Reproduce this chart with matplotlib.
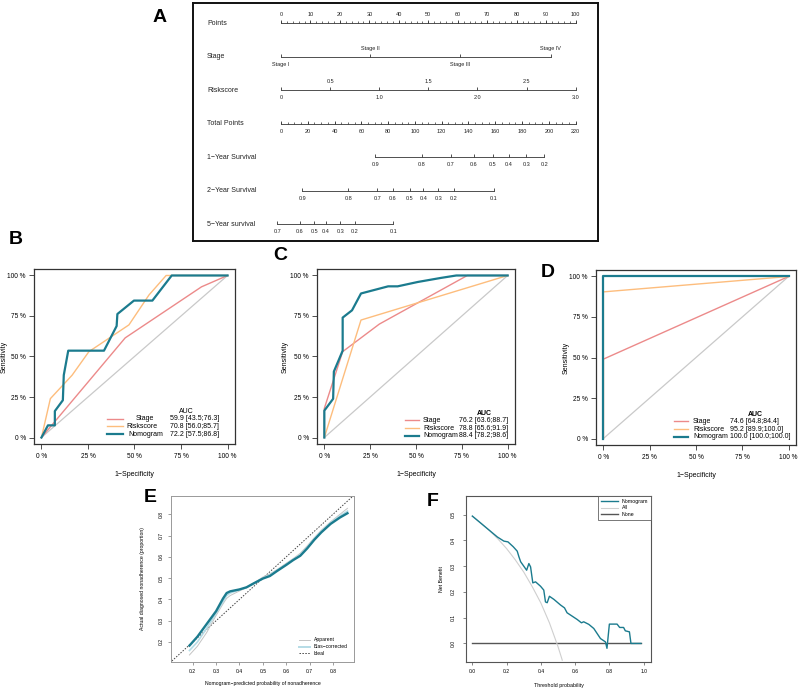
import matplotlib
matplotlib.use('Agg')
import matplotlib.pyplot as plt
from matplotlib.lines import Line2D

plt.rcParams['font.family'] = ['Liberation Sans', 'DejaVu Sans']

W, H = 800, 690

# ---- panel A: nomogram ----
row_names = ['Points', 'Stage', 'Riskscore', 'Total Points',
             '1−Year Survival', '2−Year Survival', '5−Year survival']
points_ticks = list(range(0, 101, 10))
stage_labels = ['Stage I', 'Stage II', 'Stage III', 'Stage IV']
stage_points = [0, 30.3, 60.8, 91.5]
risk_values = [0, 0.5, 1.0, 1.5, 2.0, 2.5, 3.0]
risk_labels = ['0', '0.5', '1.0', '1.5', '2.0', '2.5', '3.0']
total_ticks = list(range(0, 221, 20))
surv1_labels = ['0.9', '0.8', '0.7', '0.6', '0.5', '0.4', '0.3', '0.2']
surv1_total = [70.4, 105.3, 127.0, 143.9, 158.1, 170.2, 183.2, 196.6]
surv2_labels = ['0.9', '0.8', '0.7', '0.6', '0.5', '0.4', '0.3', '0.2', '0.1']
surv2_total = [15.9, 50.2, 71.9, 83.6, 96.3, 106.2, 117.4, 129.1, 159.0]
surv5_labels = ['0.7', '0.6', '0.5', '0.4', '0.3', '0.2', '0.1']
surv5_total = [-2.8, 14.2, 24.9, 33.6, 44.3, 55.2, 83.8]

# ---- panels B-D: ROC ----
roc_names = ['Stage', 'Riskscore', 'Nomogram']
b_stage_fpr = [0, 0.45, 0.86, 1.0]
b_stage_tpr = [0, 0.615, 0.93, 1.0]
b_risk_fpr = [0, 0.048, 0.165, 0.255, 0.47, 0.578, 0.67, 1.0]
b_risk_tpr = [0, 0.24, 0.385, 0.53, 0.695, 0.88, 1.0, 1.0]
b_nomo_fpr = [0, 0.035, 0.072, 0.072, 0.115, 0.12, 0.144, 0.336, 0.404, 0.408, 0.497, 0.596, 0.70, 1.0]
b_nomo_tpr = [0, 0.075, 0.075, 0.163, 0.23, 0.385, 0.536, 0.536, 0.688, 0.762, 0.845, 0.845, 1.0, 1.0]
b_auc = ['59.9 [43.5;76.3]', '70.8 [56.0;85.7]', '72.2 [57.5;86.8]']

c_stage_fpr = [0, 0, 0.1, 0.3, 0.78, 1.0]
c_stage_tpr = [0, 0.18, 0.53, 0.70, 1.0, 1.0]
c_risk_fpr = [0, 0.2, 1.0]
c_risk_tpr = [0, 0.725, 1.0]
c_nomo_fpr = [0, 0, 0.048, 0.052, 0.1, 0.1, 0.151, 0.2, 0.348, 0.40, 0.51, 0.636, 0.72, 1.0]
c_nomo_tpr = [0, 0.166, 0.239, 0.407, 0.536, 0.74, 0.785, 0.889, 0.933, 0.933, 0.96, 0.985, 1.0, 1.0]
c_auc = ['76.2 [63.6;88.7]', '78.8 [65.6;91.9]', '88.4 [78.2;98.6]']

d_stage_fpr = [0, 0, 1.0]
d_stage_tpr = [0, 0.49, 1.0]
d_risk_fpr = [0, 0, 1.0]
d_risk_tpr = [0, 0.905, 1.0]
d_nomo_fpr = [0, 0, 1.0]
d_nomo_tpr = [0, 1.0, 1.0]
d_auc = ['74.6 [64.8;84.4]', '95.2 [89.9;100.0]', '100.0 [100.0;100.0]']

# ---- panel E: calibration ----
e_pred = [0.186, 0.22, 0.26, 0.30, 0.33, 0.345, 0.36, 0.40, 0.43, 0.46, 0.50,
          0.53, 0.56, 0.60, 0.63, 0.66, 0.69, 0.72, 0.75, 0.79, 0.83, 0.862]
e_nomo = [0.183, 0.225, 0.285, 0.345, 0.405, 0.43, 0.438, 0.447, 0.457, 0.475, 0.498,
          0.51, 0.533, 0.562, 0.585, 0.605, 0.64, 0.68, 0.715, 0.755, 0.785, 0.805]
e_apparent = [0.139, 0.18, 0.245, 0.325, 0.38, 0.405, 0.418, 0.44, 0.455, 0.475, 0.505,
              0.52, 0.54, 0.57, 0.592, 0.617, 0.652, 0.69, 0.725, 0.765, 0.8, 0.828]
e_bias = [0.16, 0.2, 0.265, 0.335, 0.39, 0.418, 0.43, 0.445, 0.456, 0.475, 0.5,
          0.515, 0.536, 0.566, 0.588, 0.61, 0.645, 0.685, 0.72, 0.76, 0.792, 0.815]

# ---- panel F: decision curve ----
f_thr = [0, 0.146, 0.184, 0.208, 0.239, 0.262, 0.272, 0.282, 0.317, 0.33, 0.34, 0.353,
         0.369, 0.398, 0.417, 0.427, 0.437, 0.45, 0.476, 0.515, 0.538, 0.553, 0.612,
         0.637, 0.65, 0.68, 0.709, 0.728, 0.748, 0.777, 0.786, 0.8, 0.845, 0.86,
         0.883, 0.893, 0.917, 0.926, 0.984]
f_nomo = [0.494, 0.413, 0.397, 0.394, 0.375, 0.358, 0.336, 0.317, 0.284, 0.31, 0.297, 0.235,
          0.239, 0.222, 0.207, 0.161, 0.158, 0.183, 0.171, 0.149, 0.138, 0.119, 0.093,
          0.08, 0.084, 0.074, 0.058, 0.039, 0.019, 0.006, -0.019, 0.075, 0.075, 0.062,
          0.062, 0.049, 0.045, 0.0, 0.0]
f_all_thr = [0, 0.05, 0.1, 0.15, 0.2, 0.25, 0.3, 0.35, 0.4, 0.45, 0.5, 0.525]
f_all = [0.494, 0.467, 0.438, 0.405, 0.368, 0.325, 0.277, 0.22, 0.157, 0.08, -0.012, -0.065]
f_none_thr = [0, 0.985]
f_none = [0, 0]

TEAL = '#1b7b8e'
SALMON = '#ec8a8a'
ORANGE = '#fdbd7d'
DIAG = '#c9c9c9'
roc_colors = [SALMON, ORANGE, TEAL]
roc_widths = [1.0, 1.0, 1.6]


def add_ax(fig, x0, y0, x1, y1):
    return fig.add_axes([x0 / W, 1 - y1 / H, (x1 - x0) / W, (y1 - y0) / H])


fig = plt.figure(figsize=(8, 6.9), dpi=100)

# ================= A =================
axA = add_ax(fig, 193, 3, 598, 241)
axA.set_xlim(-29.86, 107.6)
axA.set_ylim(6.5, -0.6)
axA.set_xticks([])
axA.set_yticks([])
for s in axA.spines.values():
    s.set_linewidth(1.4)
    s.set_color('#111111')

lc = '#333333'


def scale_row(row, xs, labels, above, minor=None):
    axA.plot([min(xs), max(xs)], [row, row], color=lc, lw=0.6)
    axA.plot(xs, [row] * len(xs), ls='none', marker=2, ms=2.2, mew=0.6, color=lc)
    if minor is not None:
        axA.plot(minor, [row] * len(minor), ls='none', marker=2, ms=1.2, mew=0.5, color=lc)
    for x, lab, up in zip(xs, labels, above):
        axA.annotate(lab, (x, row), xytext=(0, 6.2 if up else -5.4), textcoords='offset points',
                     ha='center', va='center', fontsize=4, color='#222222')


for i, name in enumerate(row_names):
    axA.text(-25.1, i, name, ha='left', va='center', fontsize=5, color='#222222')

scale_row(0, points_ticks, [str(t) for t in points_ticks], [True] * len(points_ticks),
          minor=list(range(0, 101, 2)))
scale_row(1, stage_points, stage_labels, [False, True, False, True])
scale_row(2, [v / 3 * 100 for v in risk_values], risk_labels,
          [False, True, False, True, False, True, False])
scale_row(3, [t * 100 / 220 for t in total_ticks], [str(t) for t in total_ticks],
          [False] * len(total_ticks), minor=[t * 100 / 220 for t in range(0, 221, 5)])
scale_row(4, [t * 100 / 220 for t in surv1_total], surv1_labels, [False] * len(surv1_total))
scale_row(5, [t * 100 / 220 for t in surv2_total], surv2_labels, [False] * len(surv2_total))
scale_row(6, [t * 100 / 220 for t in surv5_total], surv5_labels, [False] * len(surv5_total))
fig.text(160 / W, 1 - 17 / H, 'A', fontsize=14, fontweight='bold', ha='center', va='center')


# ================= B, C, D =================
def roc_panel(rect, curves, aucs, letter, letter_xy, leg, auc_bold):
    ax = add_ax(fig, *rect)
    ax.plot([0, 1], [0, 1], color=DIAG, lw=0.9)
    for (fpr, tpr), col, lw in zip(curves, roc_colors, roc_widths):
        ax.plot(fpr, tpr, color=col, lw=lw)
    ax.set_xlim(-0.04, 1.04)
    ax.set_ylim(-0.04, 1.04)
    ticks = [0, 0.25, 0.5, 0.75, 1.0]
    ax.set_xticks(ticks, ['0 %', '25 %', '50 %', '75 %', '100 %'])
    ax.set_yticks(ticks, ['0 %', '25 %', '50 %', '75 %', '100 %'])
    ax.tick_params(labelsize=4.7, length=3.3, width=0.6, pad=2.5, color='#333333')
    ax.tick_params(axis='x', pad=3.5)
    for s in ax.spines.values():
        s.set_linewidth(0.9)
        s.set_color('#333333')
    ax.set_xlabel('1−Specificity', fontsize=5)
    ax.set_ylabel('Sensitivity', fontsize=5)
    ax.xaxis.set_label_coords(0.5, -0.152)
    ax.yaxis.set_label_coords(leg['ylab'], 0.5)
    hx0, hx1, name_x, name_ha, val_x, auc_x, rows, auc_y = (
        leg['hx0'], leg['hx1'], leg['name_x'], leg['name_ha'], leg['val_x'],
        leg['auc_x'], leg['rows'], leg['auc_y'])
    for k in range(3):
        ax.plot([hx0, hx1], [rows[k], rows[k]], transform=ax.transAxes, color=roc_colors[k],
                lw=roc_widths[k], clip_on=False)
        nx = name_x[k] if isinstance(name_x, list) else name_x
        ax.text(nx, rows[k], roc_names[k], transform=ax.transAxes, ha=name_ha, va='center',
                fontsize=5)
        ax.text(val_x, rows[k], aucs[k], transform=ax.transAxes, ha='left', va='center',
                fontsize=5)
    ax.text(auc_x, auc_y, 'AUC', transform=ax.transAxes, ha='center', va='center', fontsize=5,
            fontweight='bold' if auc_bold else 'normal')
    fig.text(letter_xy[0] / W, 1 - letter_xy[1] / H, letter, fontsize=14, fontweight='bold',
             ha='center', va='center')
    return ax


roc_panel((34, 269, 235, 444),
          [(b_stage_fpr, b_stage_tpr), (b_risk_fpr, b_risk_tpr), (b_nomo_fpr, b_nomo_tpr)],
          b_auc, 'B', (16, 240),
          dict(ylab=-0.13, hx0=0.363, hx1=0.443, name_x=[0.552, 0.536, 0.555], name_ha='center',
               val_x=0.677, auc_x=0.756, rows=[0.145, 0.101, 0.055], auc_y=0.183), False)
roc_panel((317, 269, 515, 444),
          [(c_stage_fpr, c_stage_tpr), (c_risk_fpr, c_risk_tpr), (c_nomo_fpr, c_nomo_tpr)],
          c_auc, 'C', (280, 255),
          dict(ylab=-0.141, hx0=0.444, hx1=0.515, name_x=0.535, name_ha='left',
               val_x=0.717, auc_x=0.846, rows=[0.137, 0.091, 0.046], auc_y=0.177), True)
roc_panel((596, 270, 796, 445),
          [(d_stage_fpr, d_stage_tpr), (d_risk_fpr, d_risk_tpr), (d_nomo_fpr, d_nomo_tpr)],
          d_auc, 'D', (548, 273),
          dict(ylab=-0.13, hx0=0.39, hx1=0.46, name_x=0.485, name_ha='left',
               val_x=0.67, auc_x=0.7975, rows=[0.137, 0.091, 0.046], auc_y=0.177), True)

# ================= E =================
axE = add_ax(fig, 171, 496, 354, 662)
axE.plot([0, 1], [0, 1], color='#444444', lw=0.7, ls=(0, (1.5, 1.5)))
axE.plot(e_pred, e_apparent, color='#c4c4c4', lw=0.7)
axE.plot(e_pred, e_bias, color='#b5dce6', lw=1.2)
axE.plot(e_pred, e_nomo, color=TEAL, lw=1.7)
axE.set_xlim(0.107, 0.89)
axE.set_ylim(0.106, 0.886)
axE.set_xticks([0.2, 0.3, 0.4, 0.5, 0.6, 0.7, 0.8])
axE.set_yticks([0.2, 0.3, 0.4, 0.5, 0.6, 0.7, 0.8])
axE.tick_params(labelsize=3.6, length=2.5, width=0.5, pad=2.5, color='#777777')
for lab in axE.get_yticklabels():
    lab.set_rotation(90)
    lab.set_va('center')
for s in axE.spines.values():
    s.set_linewidth(0.7)
    s.set_color('#999999')
axE.set_xlabel('Nomogram−predicted probability of nonadherence', fontsize=3.7)
axE.set_ylabel('Actual diagnosed nonadherence (proportion)', fontsize=3.7)
axE.xaxis.set_label_coords(0.5, -0.114)
axE.yaxis.set_label_coords(-0.142, 0.5)
e_leg = [('Apparent', '#c4c4c4', 0.7, '-'), ('Bias−corrected', '#b5dce6', 1.4, '-'),
         ('Ideal', '#444444', 0.7, (0, (1.5, 1.5)))]
for k, (lab, col, lw, ls) in enumerate(e_leg):
    yy = 0.133 - k * 0.04
    axE.plot([0.697, 0.762], [yy, yy], transform=axE.transAxes, color=col, lw=lw, ls=ls)
    axE.text(0.78, yy, lab, transform=axE.transAxes, ha='left', va='center', fontsize=3.6)
fig.text(150 / W, 1 - 498 / H, 'E', fontsize=14, fontweight='bold', ha='center', va='center')

# ================= F =================
axF = add_ax(fig, 466, 496, 651, 662)
axF.plot(f_none_thr, f_none, color='#555555', lw=1.0)
axF.plot(f_all_thr, f_all, color='#cfcfcf', lw=0.8)
axF.plot(f_thr, f_nomo, color=TEAL, lw=1.0)
axF.set_xlim(-0.037, 1.043)
axF.set_ylim(-0.072, 0.572)
axF.set_xticks([0, 0.2, 0.4, 0.6, 0.8, 1.0], ['0.0', '0.2', '0.4', '0.6', '0.8', '1.0'])
axF.set_yticks([0, 0.1, 0.2, 0.3, 0.4, 0.5], ['0.0', '0.1', '0.2', '0.3', '0.4', '0.5'])
axF.tick_params(labelsize=3.6, length=2.5, width=0.5, pad=2.5, color='#555555')
axF.tick_params(axis='y', pad=5)
for lab in axF.get_yticklabels():
    lab.set_rotation(90)
    lab.set_va('center')
for s in axF.spines.values():
    s.set_linewidth(0.8)
    s.set_color('#555555')
axF.set_xlabel('Threshold probability', fontsize=3.8)
axF.set_ylabel('Net Benefit', fontsize=3.8)
axF.xaxis.set_label_coords(0.5, -0.127)
axF.yaxis.set_label_coords(-0.119, 0.5)
f_handles = [Line2D([], [], color=TEAL, lw=1.0), Line2D([], [], color='#cfcfcf', lw=0.8),
             Line2D([], [], color='#555555', lw=1.0)]
legF = axF.legend(f_handles, ['Nomogram', 'All', 'None'], loc='upper right', fontsize=3.8,
                  frameon=True, fancybox=False, borderpad=0.5, handlelength=3.2,
                  labelspacing=0.35, bbox_to_anchor=(1.0, 1.0), borderaxespad=0.0)
legF.get_frame().set_edgecolor('#555555')
legF.get_frame().set_linewidth(0.7)
fig.text(433 / W, 1 - 502 / H, 'F', fontsize=14, fontweight='bold', ha='center', va='center')

fig.savefig('out.png', dpi=100)
